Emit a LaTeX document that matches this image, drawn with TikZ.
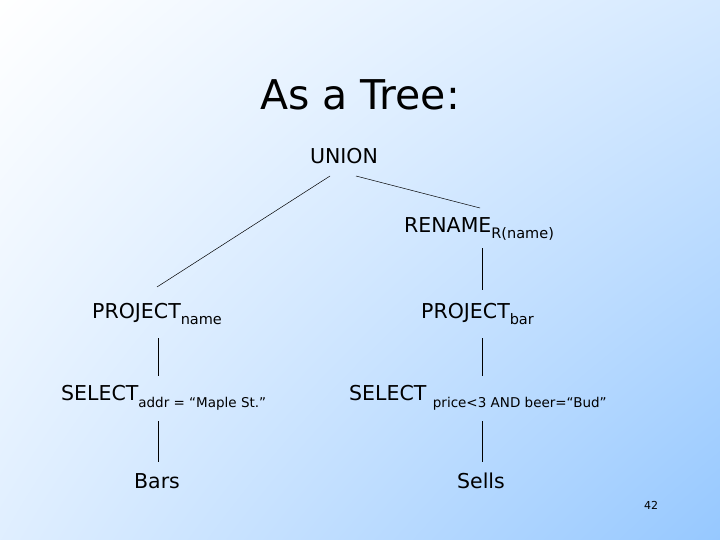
\documentclass[tikz,border=0pt]{standalone}
\usepackage{fontspec}
\usetikzlibrary{shadings}
\setmainfont{DejaVu Sans}
\definecolor{bgblue}{RGB}{150,200,255}
\begin{document}
\begin{tikzpicture}[x=1pt,y=-1pt,
  lbl/.style={inner sep=0pt,font=\fontsize{20.5}{24}\selectfont},
  edge/.style={draw=black,line width=0.5pt}]
\shade[upper left=white,upper right=white!60!bgblue,lower left=white!70!bgblue,lower right=bgblue] (0,0) rectangle (720,540);
\useasboundingbox (0,0) rectangle (720,540);
\node[inner sep=0pt,font=\fontsize{41}{46}\selectfont] (title) at (360,95) {As a Tree:};
\node[lbl] (union) at (344,156) {UNION};
\node[lbl,anchor=west] (rename) at (404,229) {RENAME\raisebox{-0.6ex}{\fontsize{14.5}{16}\selectfont R(name)}};
\node[lbl,anchor=west] (projn) at (92,314) {PROJECT\raisebox{-0.6ex}{\fontsize{14.5}{16}\selectfont name}};
\node[lbl,anchor=west] (projb) at (421,314) {PROJECT\raisebox{-0.6ex}{\fontsize{14.5}{16}\selectfont bar}};
\node[lbl,anchor=west] (sell) at (61,398) {SELECT\raisebox{-0.6ex}{\fontsize{13.5}{15}\selectfont addr = “Maple St.”}};
\node[lbl,anchor=west] (selr) at (349,398) {SELECT \raisebox{-0.6ex}{\fontsize{13.5}{15}\selectfont price<3 AND beer=“Bud”}};
\node[lbl] (bars) at (157,481) {Bars};
\node[lbl] (sells) at (481,481) {Sells};
\node[inner sep=0pt,font=\fontsize{11}{13}\selectfont] (pg) at (651,505) {42};
\coordinate (u1) at (330,176); \coordinate (u2) at (157,287);
\coordinate (u3) at (356,176); \coordinate (u4) at (480,208);
\draw[edge] (u1) -- (u2);
\draw[edge] (u3) -- (u4);
\draw[edge] (482,248) -- (482,290);
\draw[edge] (158,338) -- (158,376);
\draw[edge] (482,338) -- (482,376);
\draw[edge] (158,421) -- (158,462);
\draw[edge] (482,421) -- (482,462);
\end{tikzpicture}
\end{document}
